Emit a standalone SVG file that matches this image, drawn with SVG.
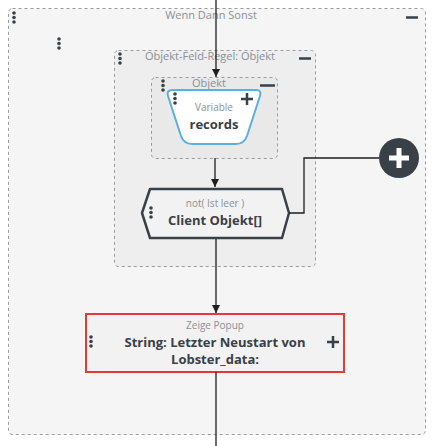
<svg xmlns="http://www.w3.org/2000/svg" width="436" height="446" viewBox="0 0 436 446">
<defs>
<style>
.cont{stroke:#9a9a9a;stroke-width:1;stroke-dasharray:3,3}
.ttl{font-family:"Open Sans","Noto Sans",sans-serif;font-size:11px;fill:#8a9096;text-anchor:middle}
.sub{font-family:"Open Sans","Noto Sans",sans-serif;font-size:10px;fill:#8a9096;text-anchor:middle}
.main{font-family:"Open Sans","Noto Sans",sans-serif;font-size:13px;font-weight:bold;fill:#3a4047;text-anchor:middle}
.dot{fill:#3a4047}
.ln{stroke:#1e1e1e;stroke-width:1.3;fill:none}
.ic{stroke:#3a4047;stroke-width:2.5;fill:none}
</style>
<marker id="ah" viewBox="0 0 10 10" refX="10" refY="5" markerWidth="8" markerHeight="8" markerUnits="userSpaceOnUse" orient="auto">
<path d="M0,0 L10,5 L0,10 Z" fill="#1e1e1e"/>
</marker>
<g id="dots"><circle cx="0" cy="0" r="1.8"/><circle cx="0" cy="4.5" r="1.8"/><circle cx="0" cy="9" r="1.8"/></g>
</defs>
<rect width="436" height="446" fill="#ffffff"/>

<g id="wenn-dann-sonst">
<rect class="cont" x="8.5" y="8.5" width="417" height="426" rx="4" fill="#f5f5f5"/>
<text class="ttl" x="211" y="19">Wenn Dann Sonst</text>
<use href="#dots" x="14" y="13" class="dot"/>
<use href="#dots" x="59" y="39" class="dot"/>
<line x1="406" y1="17.5" x2="418" y2="17.5" class="ic"/>
</g>

<g id="objekt-feld-regel">
<rect class="cont" x="114.5" y="50.5" width="201" height="216" rx="4" fill="#eeeeee"/>
<text class="ttl" x="210" y="60">Objekt-Feld-Regel: Objekt</text>
<use href="#dots" x="120" y="54" class="dot"/>
<line x1="299" y1="58.5" x2="311" y2="58.5" class="ic"/>
</g>

<g id="objekt">
<rect class="cont" x="151.5" y="77.5" width="126" height="81" rx="4" fill="#e9e9e9"/>
<text class="ttl" x="209" y="87">Objekt</text>
<use href="#dots" x="163" y="81" class="dot"/>
<line x1="260" y1="85.5" x2="275" y2="85.5" class="ic"/>
</g>

<g id="variable-records">
<path d="M173,90 L256,90 Q262,90 260,96 L247,136 Q244,144 236,144 L192,144 Q184,144 181,136 L168,96 Q166,90 173,90 Z" fill="#ffffff" stroke="#5aafe0" stroke-width="2"/>
<text class="sub" x="214" y="111">Variable</text>
<text class="main" x="214" y="129">records</text>
<use href="#dots" x="175" y="94" class="dot"/>
<path d="M241,99 L253,99 M247,93 L247,105" class="ic"/>
</g>

<g id="client-objekt">
<path d="M150,189 L282,189 L289,213 L282,238 L150,238 L142,213 Z" fill="#f2f2f2" stroke="#3a4047" stroke-width="2.5" stroke-linejoin="round"/>
<text class="sub" x="215" y="207">not( Ist leer )</text>
<text class="main" x="215" y="225">Client Objekt[]</text>
<use href="#dots" x="151" y="208" class="dot"/>
</g>

<g id="add-button">
<circle cx="399" cy="158" r="20" fill="#3a4047"/>
<path d="M389,158 L409,158 M399,148 L399,168" stroke="#ffffff" stroke-width="5"/>
</g>

<g id="zeige-popup">
<rect x="86" y="314" width="258" height="58" fill="#f2f2f2" stroke="#e53935" stroke-width="2"/>
<text class="sub" x="215" y="329">Zeige Popup</text>
<text class="main" x="215" y="347">String: Letzter Neustart von</text>
<text class="main" x="215" y="364">Lobster_data:</text>
<use href="#dots" x="91" y="337" class="dot"/>
<path d="M327,342 L339,342 M333,336 L333,348" class="ic"/>
</g>

<g id="connectors">
<line x1="216" y1="0" x2="216" y2="77" class="ln" marker-end="url(#ah)"/>
<line x1="215" y1="158" x2="215" y2="187" class="ln" marker-end="url(#ah)"/>
<polyline points="289,213 304,213 304,158 379,158" class="ln"/>
<line x1="216" y1="239" x2="216" y2="313" class="ln" marker-end="url(#ah)"/>
<line x1="216" y1="372" x2="216" y2="446" class="ln"/>
</g>
</svg>
